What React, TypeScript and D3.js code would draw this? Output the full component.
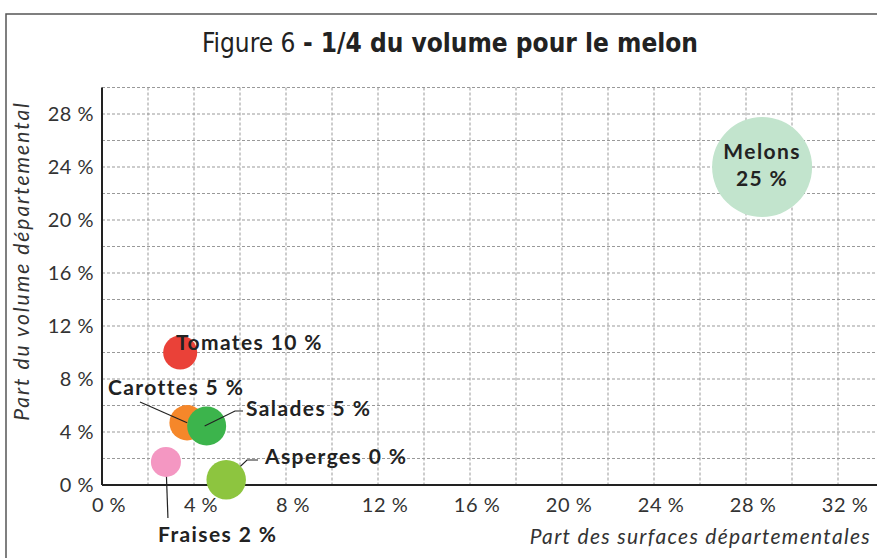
import React from "react";
import * as d3 from "d3";

const names = ["Melons", "Tomates", "Carottes", "Salades", "Fraises", "Asperges"];
const surfaceShare = [28.7, 3.4, 3.7, 4.55, 2.78, 5.4];
const volumeShare = [24.0, 10.0, 4.7, 4.45, 1.74, 0.4];
const bubbleSize = [25, 2.9, 3.13, 3.8, 2.25, 3.9];
const labelText = ["25 %", "Tomates 10 %", "Carottes 5 %", "Salades 5 %", "Fraises 2 %", "Asperges 0 %"];
const colors = ["#c2e4cd", "#ea4138", "#f5872a", "#3cb44c", "#f497c2", "#8dc53f"];
const xTicks = [0, 4, 8, 12, 16, 20, 24, 28, 32];
const yTicks = [0, 4, 8, 12, 16, 20, 24, 28];

const W = 877;
const H = 558;

export default function App() {
  const x = d3.scaleLinear().domain([0, 32]).range([102, 838]);
  const y = d3.scaleLinear().domain([0, 28]).range([485, 114]);
  const r = d3.scaleSqrt().domain([0, 25]).range([0, 50]);
  const gridX = d3.range(2, 35, 2);
  const gridY = d3.range(2, 31, 2);
  const left = x(0);
  const top = y(30);
  const bottom = y(0);
  const font = "Lato, 'Open Sans', sans-serif";

  const px = (i: number) => x(surfaceShare[i]);
  const py = (i: number) => y(volumeShare[i]);

  const lbl = { fontFamily: font, fontWeight: 700, fontSize: 21, letterSpacing: 1.4, fill: "#222" } as const;

  return (
    <svg width={W} height={H} style={{ position: "fixed", left: 0, top: 0, background: "#fff" }}>
      <rect x={6} y={14} width={W + 20} height={H + 20} fill="none" stroke="#555" strokeWidth={1.5} />
      <text x={450} y={52} textAnchor="middle" fontFamily="'DejaVu Sans Condensed', 'DejaVu Sans', sans-serif" fontSize={26} fill="#222">
        <tspan>Figure 6 </tspan>
        <tspan fontWeight={700}>- 1/4 du volume pour le melon</tspan>
      </text>
      {gridY.map((v) => (
        <line key={"gy" + v} x1={left} x2={W} y1={y(v)} y2={y(v)} stroke="#999" strokeWidth={1} strokeDasharray="3,2" />
      ))}
      {gridX.map((v) => (
        <line key={"gx" + v} x1={x(v)} x2={x(v)} y1={top} y2={bottom} stroke="#999" strokeWidth={1} strokeDasharray="3,2" />
      ))}
      <line x1={left} x2={left} y1={top} y2={bottom} stroke="#222" strokeWidth={2} />
      <line x1={left} x2={W} y1={bottom} y2={bottom} stroke="#222" strokeWidth={2} />
      {yTicks.map((v) => (
        <text key={"yt" + v} x={left - 8} y={y(v)} dy="0.35em" textAnchor="end" fontFamily={font} fontSize={20} letterSpacing={0.5} fill="#333">
          {v + " %"}
        </text>
      ))}
      {xTicks.map((v) => (
        <text key={"xt" + v} x={x(v) + 7} y={bottom + 20} dy="0.35em" textAnchor="middle" fontFamily={font} fontSize={20} letterSpacing={0.5} fill="#333">
          {v + " %"}
        </text>
      ))}
      <text x={871} y={544} textAnchor="end" fontFamily={font} fontStyle="italic" fontSize={21} letterSpacing={1.3} fill="#333">
        Part des surfaces départementales
      </text>
      <text transform={`translate(29,261) rotate(-90)`} textAnchor="middle" fontFamily={font} fontStyle="italic" fontSize={21} letterSpacing={2} fill="#333">
        Part du volume départemental
      </text>
      <line x1={px(4)} y1={py(4)} x2={px(4) + 2} y2={518} stroke="#222" strokeWidth={1.2} />
      <polyline points={`${px(5)},${py(5)} 247,460 258,460`} fill="none" stroke="#222" strokeWidth={1.2} />
      {names.map((n, i) => (
        <circle key={n} cx={px(i)} cy={py(i)} r={r(bubbleSize[i])} fill={colors[i]} />
      ))}
      <polyline points={`${px(3) - 2},${py(3)} 235,411 243,411`} fill="none" stroke="#222" strokeWidth={1.2} />
      <line x1={140} y1={402} x2={px(2)} y2={py(2)} stroke="#222" strokeWidth={1.2} />
      <text x={px(0)} y={152} dy="0.35em" textAnchor="middle" {...lbl}>{names[0]}</text>
      <text x={px(0)} y={179} dy="0.35em" textAnchor="middle" {...lbl}>{labelText[0]}</text>
      <text x={176} y={343} dy="0.35em" {...lbl}>{labelText[1]}</text>
      <text x={108} y={388} dy="0.35em" {...lbl}>{labelText[2]}</text>
      <text x={246} y={409} dy="0.35em" {...lbl}>{labelText[3]}</text>
      <text x={158} y={535} dy="0.35em" {...lbl}>{labelText[4]}</text>
      <text x={265} y={457} dy="0.35em" {...lbl}>{labelText[5]}</text>
    </svg>
  );
}
